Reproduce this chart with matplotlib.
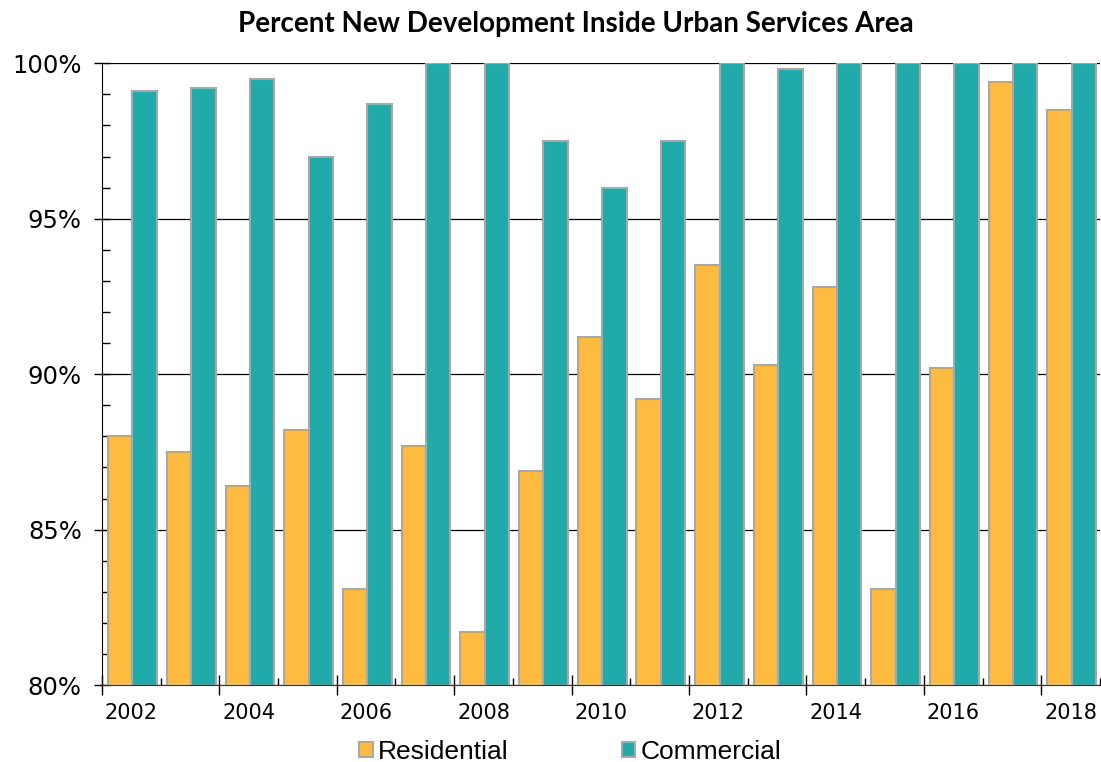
import numpy as np
import matplotlib.pyplot as plt
from matplotlib.ticker import MultipleLocator, FixedLocator, PercentFormatter

plt.rcParams['font.family'] = ['DejaVu Sans']

years = [2002, 2003, 2004, 2005, 2006, 2007, 2008, 2009, 2010,
         2011, 2012, 2013, 2014, 2015, 2016, 2017, 2018]
residential = [88.0, 87.5, 86.4, 88.2, 83.1, 87.7, 81.7, 86.9, 91.2,
               89.2, 93.5, 90.3, 92.8, 83.1, 90.2, 99.4, 98.5]
commercial = [99.1, 99.2, 99.5, 97.0, 98.7, 100.0, 100.0, 97.5, 96.0,
              97.5, 100.0, 99.8, 100.0, 100.0, 100.0, 100.0, 100.0]
series_names = ['Residential', 'Commercial']

c_res = '#FDBB40'
c_com = '#20ABAA'
edge = '#A8A8A8'

fig = plt.figure(figsize=(11.01, 7.62), dpi=100)
ax = fig.add_axes([0.0926, 0.101, 0.9065, 0.816])

x = np.arange(len(years))
w = 0.415
ax.bar(x - w/2 + 0.02, residential, w, color=c_res, edgecolor=edge, linewidth=1.5,
       label=series_names[0], zorder=3)
ax.bar(x + w/2 + 0.02, commercial, w, color=c_com, edgecolor=edge, linewidth=1.5,
       label=series_names[1], zorder=3)

ax.set_ylim(80, 100)
ax.set_xlim(-0.5, len(years) - 0.5)

# y axis
ax.yaxis.set_major_locator(MultipleLocator(5))
ax.yaxis.set_minor_locator(MultipleLocator(1))
ax.yaxis.set_major_formatter(PercentFormatter(decimals=0))
ax.tick_params(axis='y', which='major', direction='inout', length=11, width=1,
               labelsize=17.5, pad=9)
ax.tick_params(axis='y', which='minor', direction='in', length=6, width=1)
ax.grid(axis='y', which='major', color='black', linewidth=0.9, zorder=0)
ax.set_axisbelow(True)
ax.get_ygridlines()[-1].set_color('#E6E6E6')

# x axis: labels at even years, ticks at category boundaries
ax.set_xticks(x[::2])
ax.set_xticklabels([str(y) for y in years[::2]])
ax.tick_params(axis='x', which='major', length=0, labelsize=15, pad=13)

sec = ax.secondary_xaxis('bottom')
sec.xaxis.set_major_locator(FixedLocator(np.arange(-0.5, len(years), 2)))
sec.xaxis.set_minor_locator(FixedLocator(np.arange(0.5, len(years) + 0.5, 2)))
sec.tick_params(axis='x', which='major', direction='inout', length=14, width=1,
                labelbottom=False)
sec.tick_params(axis='x', which='minor', direction='in', length=5, width=1)
sec.spines['bottom'].set_visible(False)

for s in ['top', 'right']:
    ax.spines[s].set_visible(False)
ax.spines['left'].set_color('black')
ax.spines['bottom'].set_color('#333333')

fig.suptitle('Percent New Development Inside Urban Services Area',
             fontfamily='Lato', fontweight='bold', fontsize=20, x=0.523, y=0.985)

leg = fig.legend(loc='lower center', bbox_to_anchor=(0.518, -0.034), ncol=2,
                 frameon=False, prop={'family': 'Liberation Sans', 'size': 19},
                 handlelength=0.5, handleheight=0.5, handletextpad=0.2,
                 columnspacing=4.3)

fig.savefig('out.png', dpi=100)
